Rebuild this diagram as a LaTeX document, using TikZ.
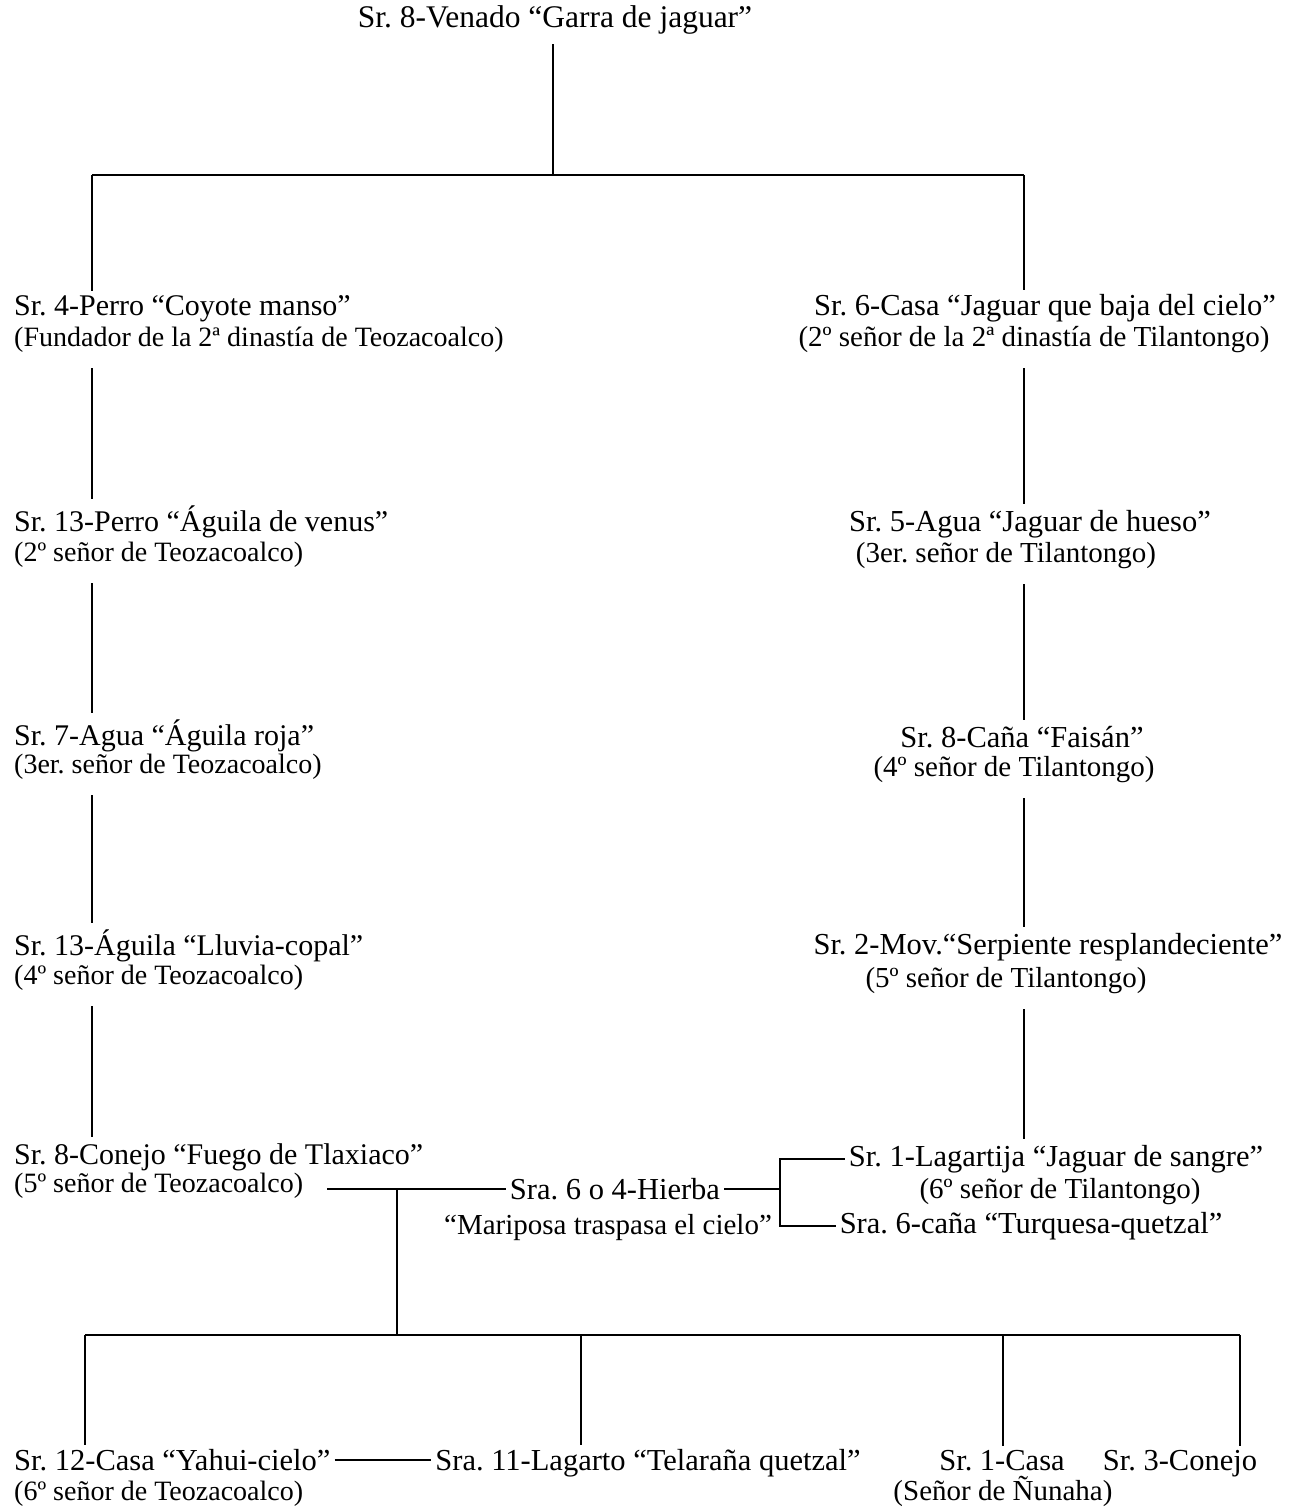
\documentclass[tikz,border=0pt]{standalone}
\usepackage{fontspec}
\setmainfont{Liberation Serif}
\frenchspacing

\tikzset{
  lord/.style={font=\fontsize{30.5}{32}\selectfont, inner sep=4pt},
  rank/.style={font=\fontsize{29}{31}\selectfont, inner sep=4pt},
  west/.style={font=\fontsize{30}{32}\selectfont},
  westrank/.style={font=\fontsize{28}{30}\selectfont},
  kin/.style={line width=1.8pt},
  col/.style={kin, shorten <=12pt, shorten >=2pt},
}

\begin{document}
\begin{tikzpicture}[x=1pt, y=-1pt]
  \useasboundingbox (0,0) rectangle (1291,1508);
  \def\lx{92} \def\rx{1024}
  \coordinate (lcol) at (\lx,0);
  \coordinate (rcol) at (\rx,0);

  % founder
  \node[lord, font=\fontsize{31.5}{33}\selectfont, anchor=base] (venado) at (555,27) {Sr. 8-Venado “Garra de jaguar”};

  % Teozacoalco
  \node[lord, west, anchor=base west] (perro4)    at (10,315)  {Sr. 4-Perro “Coyote manso”};
  \node[rank, westrank, anchor=base west] (perro4t)   at (10,346)  {(Fundador de la 2ª dinastía de Teozacoalco)};
  \node[lord, west, anchor=base west] (perro13)   at (10,531)  {Sr. 13-Perro “Águila de venus”};
  \node[rank, westrank, anchor=base west] (perro13t)  at (10,561)  {(2º señor de Teozacoalco)};
  \node[lord, west, anchor=base west] (agua7)     at (10,745)  {Sr. 7-Agua “Águila roja”};
  \node[rank, westrank, anchor=base west] (agua7t)    at (10,773)  {(3er. señor de Teozacoalco)};
  \node[lord, west, anchor=base west] (aguila13)  at (10,955)  {Sr. 13-Águila “Lluvia-copal”};
  \node[rank, westrank, anchor=base west] (aguila13t) at (10,984)  {(4º señor de Teozacoalco)};
  \node[lord, west, anchor=base west] (conejo8)   at (10,1164) {Sr. 8-Conejo “Fuego de Tlaxiaco”};
  \node[rank, westrank, anchor=base west] (conejo8t)  at (10,1192) {(5º señor de Teozacoalco)};

  % Tilantongo
  \node[lord, anchor=base] (casa6)       at (1045,315)  {Sr. 6-Casa “Jaguar que baja del cielo”};
  \node[rank, anchor=base] (casa6t)      at (1034,346)  {(2º señor de la 2ª dinastía de Tilantongo)};
  \node[lord, anchor=base] (agua5)       at (1030,531)  {Sr. 5-Agua “Jaguar de hueso”};
  \node[rank, anchor=base] (agua5t)      at (1006,562)  {(3er. señor de Tilantongo)};
  \node[lord, anchor=base] (cana8)       at (1022,747)  {Sr. 8-Caña “Faisán”};
  \node[rank, anchor=base] (cana8t)      at (1014,776)  {(4º señor de Tilantongo)};
  \node[lord, anchor=base] (mov2)        at (1048,954)  {Sr. 2-Mov.“Serpiente resplandeciente”};
  \node[rank, anchor=base] (mov2t)       at (1006,987)  {(5º señor de Tilantongo)};
  \node[lord, anchor=base] (lagartija)   at (1056,1166) {Sr. 1-Lagartija “Jaguar de sangre”};
  \node[rank, anchor=base] (lagartijat)  at (1060,1198) {(6º señor de Tilantongo)};
  \node[lord, anchor=base] (turquesa)    at (1031,1233) {Sra. 6-caña “Turquesa-quetzal”};

  % wife
  \node[lord, anchor=base] (hierba)   at (615,1199) {Sra. 6 o 4-Hierba};
  \node[rank, anchor=base] (mariposa) at (608,1234) {“Mariposa traspasa el cielo”};

  % children
  \node[lord, anchor=base west] (casa12)  at (10,1470) {Sr. 12-Casa “Yahui-cielo”};
  \node[rank, westrank, anchor=base west] (casa12t) at (10,1500) {(6º señor de Teozacoalco)};
  \node[lord, anchor=base] (lagarto11) at (648,1470)  {Sra. 11-Lagarto “Telaraña quetzal”};
  \node[lord, anchor=base] (casa1)     at (1002,1470) {Sr. 1-Casa};
  \node[rank, anchor=base] (casa1t)    at (1003,1500) {(Señor de Ñunaha)};
  \node[lord, anchor=base] (conejo3)   at (1180,1470) {Sr. 3-Conejo};

  % top split
  \coordinate (bar) at (553,175);
  \draw[kin, shorten <=6pt] (venado.south -| bar) -- (bar);
  \draw[kin] (bar -| lcol) -- (bar -| rcol);
  \draw[kin] (bar -| lcol) -- (perro4.north -| lcol);
  \draw[kin] (bar -| rcol) -- (casa6.north -| rcol);

  % descent in both houses
  \foreach \a/\b in {perro4t/perro13, perro13t/agua7, agua7t/aguila13, aguila13t/conejo8}
    \draw[col] (\a.south -| lcol) -- (\b.north -| lcol);
  \foreach \a/\b in {casa6t/agua5, agua5t/cana8, cana8t/mov2, mov2t/lagartija}
    \draw[col] (\a.south -| rcol) -- (\b.north -| rcol);

  % marriage and her parents
  \draw[kin, shorten <=20pt] (conejo8t.east |- hierba.west) -- (hierba.west)
    coordinate[pos=0.45] (wed);
  \coordinate (brk) at (780,1190);
  \draw[kin] (hierba.east) -- (hierba.east -| brk);
  \draw[kin] (lagartija.west) -- (lagartija.west -| brk) -- (turquesa.west -| brk) -- (turquesa.west);

  % offspring
  \coordinate (k1) at (85,1335);
  \coordinate (k2) at (581,1335);
  \coordinate (k3) at (1003,1335);
  \coordinate (k4) at (1240,1335);
  \draw[kin] (wed) -- (wed |- k1);
  \draw[kin] (k1) -- (k4);
  \foreach \k/\n in {k1/casa12, k2/lagarto11, k3/casa1, k4/conejo3}
    \draw[kin] (\k) -- (\k |- \n.north);
  \draw[kin] (casa12.east) -- (casa12.east -| lagarto11.west);
\end{tikzpicture}
\end{document}
